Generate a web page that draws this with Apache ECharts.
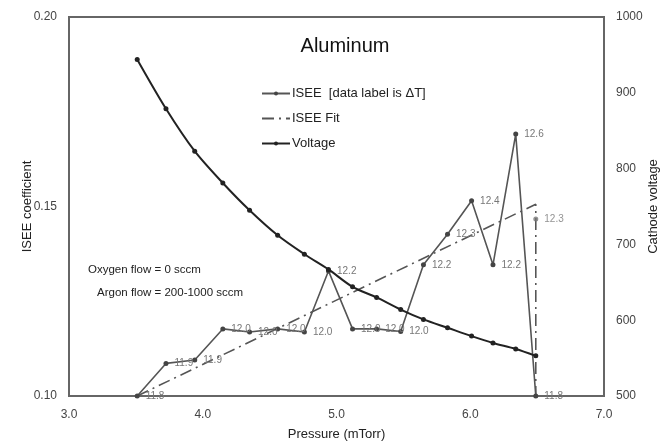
<!DOCTYPE html>
<html>
<head>
<meta charset="utf-8">
<title>Aluminum ISEE</title>
<script src="https://cdn.jsdelivr.net/npm/echarts@6/dist/echarts.min.js"></script>
<style>
  html, body { margin: 0; padding: 0; background: #fff; }
  #chart { width: 664px; height: 441px; }
</style>
</head>
<body>
<div id="chart"></div>
<script>
// pressure (mTorr) for each measurement
const pressure = [3.51, 3.725, 3.94, 4.15, 4.35, 4.56, 4.76, 4.94, 5.12, 5.30, 5.48, 5.65, 5.83, 6.01, 6.17, 6.34, 6.49];
// ISEE coefficient
const isee = [0.100, 0.1086, 0.1095, 0.1177, 0.1169, 0.1177, 0.1169, 0.1330, 0.1177, 0.1177, 0.1170, 0.1346, 0.1427, 0.1515, 0.1346, 0.1691, 0.100];
// data labels (delta T)
const deltaT = ["11.8", "11.9", "11.9", "12.0", "12.0", "12.0", "12.0", "12.2", "12.0", "12.0", "12.0", "12.2", "12.3", "12.4", "12.2", "12.6", "11.8"];
// cathode voltage
const voltage = [944, 879, 823, 781, 745, 712, 687, 667, 644, 630, 614, 601, 590, 579, 570, 562, 553];
// fit line end points
const fitX = [3.51, 6.49, 6.49];
const fitY = [0.100, 0.1506, 0.100];
// extra point at the last pressure
const extraX = [6.49];
const extraY = [0.1467];
const extraLabel = ["12.3"];

const font = "'Liberation Sans', Arial, sans-serif";

const chart = echarts.init(document.getElementById("chart"));

const option = {
  backgroundColor: "#fff",
  animation: false,
  textStyle: { fontFamily: font },
  title: {
    text: "Aluminum",
    left: 340,
    top: 31,
    textAlign: "center",
    textStyle: { fontFamily: font, fontSize: 20, fontWeight: "normal", color: "#111" },
  },
  legend: {
    orient: "vertical",
    left: 256,
    top: 82,
    itemWidth: 28,
    itemHeight: 5,
    itemGap: 12,
    data: [
      { name: "ISEE  [data label is \u0394T]" },
      { name: "ISEE Fit", itemStyle: { opacity: 0 } },
      { name: "Voltage" },
    ],
    textStyle: { fontFamily: font, fontSize: 13, color: "#222", padding: [0, 0, 0, -3] },
  },
  grid: {
    left: 69,
    right: 60,
    top: 17,
    bottom: 45,
    outerBoundsMode: "none",
    containLabel: false,
    show: true,
    borderColor: "#666",
    borderWidth: 2,
  },
  xAxis: {
    type: "value",
    min: 3,
    max: 7,
    interval: 1,
    name: "Pressure (mTorr)",
    nameLocation: "middle",
    nameGap: 32,
    nameMoveOverlap: false,
    nameTextStyle: { fontSize: 13, color: "#222" },
    axisLine: { onZero: false, lineStyle: { color: "#666", width: 2 } },
    axisTick: { show: false },
    splitLine: { show: false },
    axisLabel: { fontSize: 12, color: "#444", margin: 13, formatter: (v) => v.toFixed(1) },
  },
  yAxis: [
    {
      type: "value",
      min: 0.1,
      max: 0.2,
      interval: 0.05,
      name: "ISEE coefficient",
      nameLocation: "middle",
      nameGap: 35,
      nameMoveOverlap: false,
      nameTextStyle: { fontSize: 13, color: "#222" },
      axisLine: { show: true, lineStyle: { color: "#666", width: 2 } },
      axisTick: { show: false },
      splitLine: { show: false },
      axisLabel: { fontSize: 12, color: "#444", margin: 12, formatter: (v) => v.toFixed(2) },
    },
    {
      type: "value",
      min: 500,
      max: 1000,
      interval: 100,
      name: "Cathode voltage",
      nameLocation: "middle",
      nameGap: 43,
      nameMoveOverlap: false,
      nameTextStyle: { fontSize: 13, color: "#222" },
      axisLine: { show: true, lineStyle: { color: "#666", width: 2 } },
      axisTick: { show: false },
      splitLine: { show: false },
      axisLabel: { fontSize: 12, color: "#444", margin: 12, formatter: (v) => String(v) },
    },
  ],
  graphic: [
    {
      type: "text",
      left: 88,
      top: 264,
      style: { text: "Oxygen flow = 0 sccm", font: "11.5px " + font, fill: "#222" },
    },
    {
      type: "text",
      left: 97,
      top: 287,
      style: { text: "Argon flow = 200-1000 sccm", font: "11.5px " + font, fill: "#222" },
    },
  ],
  series: [
    {
      name: "ISEE Fit",
      type: "line",
      yAxisIndex: 0,
      data: fitX.map((x, i) => [x, fitY[i]]),
      symbol: "none",
      lineStyle: { color: "#555", width: 1.6, type: [12, 5, 2, 5] },
      itemStyle: { color: "#555" },
      z: 2,
    },
    {
      name: "ISEE  [data label is \u0394T]",
      type: "line",
      yAxisIndex: 0,
      data: pressure.map((x, i) => [x, isee[i]]),
      symbol: "circle",
      symbolSize: 5,
      lineStyle: { color: "#555", width: 1.6 },
      itemStyle: { color: "#444" },
      label: {
        show: true,
        position: "right",
        distance: 6,
        fontSize: 10,
        color: "#777",
        formatter: (p) => deltaT[p.dataIndex],
      },
      z: 3,
    },
    {
      name: "extra",
      type: "scatter",
      yAxisIndex: 0,
      data: extraX.map((x, i) => [x, extraY[i]]),
      symbolSize: 5,
      itemStyle: { color: "#777" },
      label: {
        show: true,
        position: "right",
        distance: 6,
        fontSize: 10,
        color: "#777",
        formatter: (p) => extraLabel[p.dataIndex],
      },
    },
    {
      name: "Voltage",
      type: "line",
      yAxisIndex: 1,
      data: pressure.map((x, i) => [x, voltage[i]]),
      smooth: 0.3,
      symbol: "circle",
      symbolSize: 5,
      lineStyle: { color: "#222", width: 2 },
      itemStyle: { color: "#222" },
      z: 4,
    },
  ],
};

chart.setOption(option);
</script>
</body>
</html>
